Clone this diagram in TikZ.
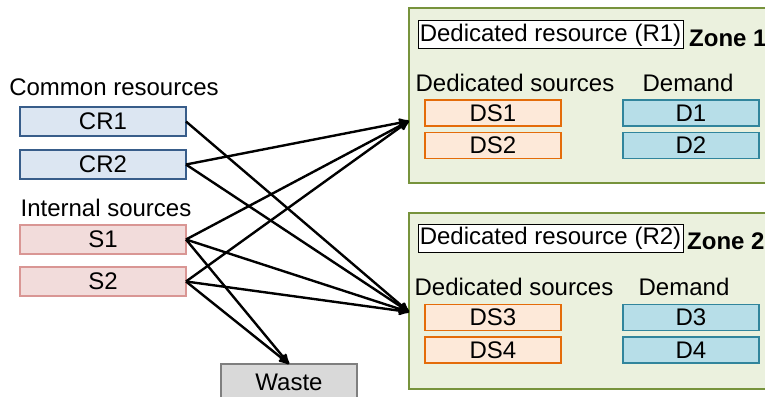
\documentclass[tikz,border=0pt]{standalone}
\usepackage{fontspec}
\setmainfont{Liberation Sans}
\usetikzlibrary{arrows,calc}

\definecolor{crfill}{RGB}{220,230,242}
\definecolor{crline}{RGB}{56,93,138}
\definecolor{sfill}{RGB}{242,220,219}
\definecolor{sline}{RGB}{217,150,148}
\definecolor{dsfill}{RGB}{253,233,217}
\definecolor{dsline}{RGB}{228,108,10}
\definecolor{dfill}{RGB}{183,222,232}
\definecolor{dline}{RGB}{49,133,156}
\definecolor{zonefill}{RGB}{235,241,222}
\definecolor{zoneline}{RGB}{119,147,60}
\definecolor{wastefill}{RGB}{217,217,217}
\definecolor{wasteline}{RGB}{127,127,127}

\tikzset{
  box/.style={rectangle,draw,line width=1.6pt,inner sep=0pt,outer sep=0pt,
    minimum height=29pt,font=\fontsize{24}{27}\selectfont},
  crbox/.style={box,fill=crfill,draw=crline,minimum width=166pt},
  sbox/.style={box,fill=sfill,draw=sline,minimum width=166pt},
  dsbox/.style={box,fill=dsfill,draw=dsline,minimum width=136pt,minimum height=26pt},
  dbox/.style={box,fill=dfill,draw=dline,minimum width=136pt,minimum height=26pt},
  zonebox/.style={rectangle,draw=zoneline,fill=zonefill,line width=2pt,inner sep=0pt,outer sep=0pt},
  resbox/.style={box,draw=black,fill=white,line width=1pt,minimum width=265pt,minimum height=28pt},
  lbl/.style={inner sep=0pt,font=\fontsize{24}{27}\selectfont},
  flow/.style={-stealth',line width=2.4pt,black}
}

\begin{document}
\begin{tikzpicture}[x=1pt,y=-1pt]
\useasboundingbox (0,0) rectangle (765,396);
\clip (0,0) rectangle (765,396);

% zones
\node[zonebox,minimum width=381pt,minimum height=175pt] (zone1) at (599.5,95.5) {};
\node[zonebox,minimum width=381pt,minimum height=176pt] (zone2) at (599.5,301) {};

\node[resbox] (r1) at (550.5,35) {Dedicated resource (R1)};
\node[lbl,anchor=west,font=\fontsize{24}{27}\selectfont\bfseries] (z1name) at (689,38) {Zone 1};
\node[lbl] (dsl1) at (515,83) {Dedicated sources};
\node[lbl] (dl1) at (688,83) {Demand};
\node[dsbox] (ds1) at (493,113) {DS1};
\node[dsbox] (ds2) at (493,145.5) {DS2};
\node[dbox] (d1) at (691,113) {D1};
\node[dbox] (d2) at (691,145.5) {D2};

\node[resbox] (r2) at (550.5,238) {Dedicated resource (R2)};
\node[lbl,anchor=west,font=\fontsize{24}{27}\selectfont\bfseries] (z2name) at (687,241) {Zone 2};
\node[lbl] (dsl2) at (514,287) {Dedicated sources};
\node[lbl] (dl2) at (684,287) {Demand};
\node[dsbox] (ds3) at (493,317.5) {DS3};
\node[dsbox] (ds4) at (493,350) {DS4};
\node[dbox] (d3) at (691,317.5) {D3};
\node[dbox] (d4) at (691,350) {D4};

% sources
\node[lbl] (crl) at (114,87) {Common resources};
\node[crbox] (cr1) at (103,121.5) {CR1};
\node[crbox] (cr2) at (103,164.5) {CR2};
\node[lbl] (sl) at (106,208) {Internal sources};
\node[sbox] (s1) at (103,239.5) {S1};
\node[sbox] (s2) at (103,281.5) {S2};

\node[box,fill=wastefill,draw=wasteline,minimum width=136pt,minimum height=36pt] (waste) at (289,382) {Waste};

\coordinate (in1) at (zone1.west |- 0,121);
\coordinate (in2) at (zone2.west |- 0,312);

% flows
\draw[flow] (cr1.east) -- (in2);
\draw[flow] (cr2.east) -- (in1);
\draw[flow] (cr2.east) -- (in2);
\foreach \s in {s1,s2} {
  \draw[flow] (\s.east) -- (in1);
  \draw[flow] (\s.east) -- (in2);
  \draw[flow] (\s.east) -- (waste.north);
}
\end{tikzpicture}
\end{document}
